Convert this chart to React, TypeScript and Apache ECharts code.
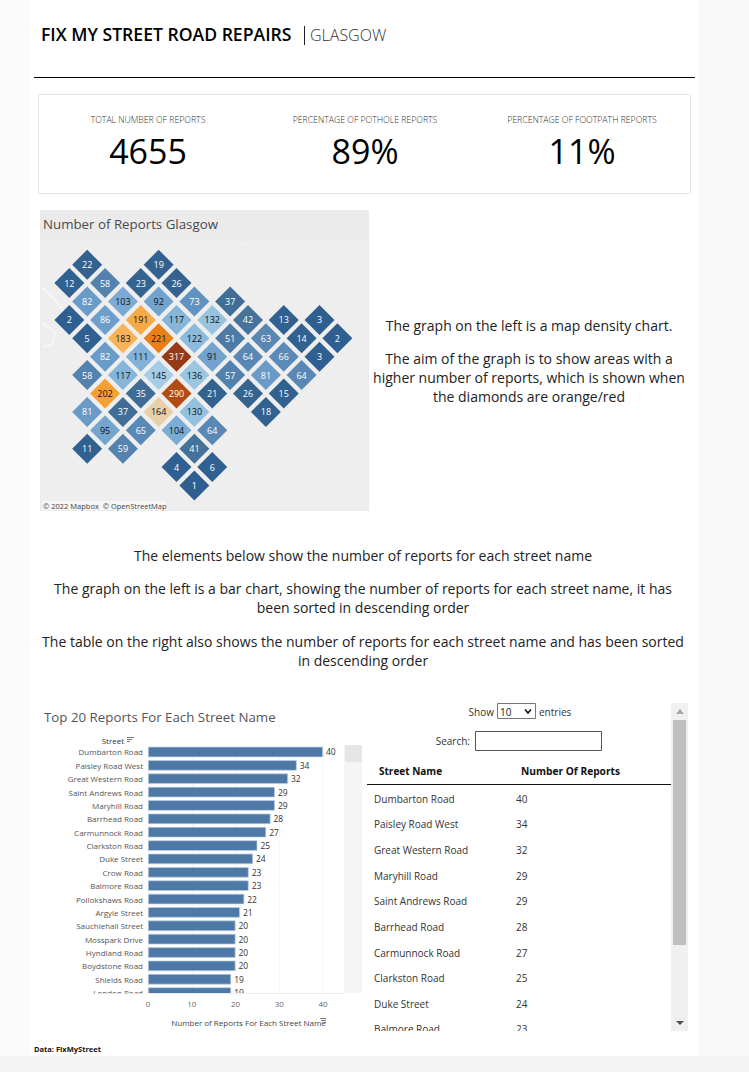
import React, { useEffect, useRef } from "react";
import * as echarts from "echarts";

const FONT = "'Open Sans', sans-serif";
const mapCols = [1,5, 0,2,4,6, 1,3,5,7,9, 0,2,4,6,8,10,12,14, 1,3,5,7,9,11,13,15, 2,4,6,8,10,12,14, 1,3,5,7,9,11,13, 2,4,6,8,10,12, 1,3,5,7,11, 2,4,6,8, 1,3,7, 6,8, 7];
const mapRows = [0,0, 1,1,1,1, 2,2,2,2,2, 3,3,3,3,3,3,3,3, 4,4,4,4,4,4,4,4, 5,5,5,5,5,5,5, 6,6,6,6,6,6,6, 7,7,7,7,7,7, 8,8,8,8,8, 9,9,9,9, 10,10,10, 11,11, 12];
const mapValues = [22,19, 12,58,23,26, 82,103,92,73,37, 2,86,191,117,132,42,13,3, 5,183,221,122,51,63,14,2, 82,111,317,91,64,66,3, 58,117,145,136,57,81,64, 202,35,290,21,26,15, 81,37,164,130,18, 95,65,104,64, 11,59,41, 4,6, 1];
const colorStopValues = [1, 26, 42, 58, 82, 117, 145, 155, 164, 183, 202, 221, 290, 317];
const colorStops = ["#2f5f91","#34638f","#467399","#5482ae","#6b9bc9","#85b6da","#a6cde5","#c8d6dc","#e6cfa9","#f8b358","#f5a030","#ea7f16","#b24c12","#963a16"];

const streets = ["Dumbarton Road","Paisley Road West","Great Western Road","Saint Andrews Road","Maryhill Road","Barrhead Road","Carmunnock Road","Clarkston Road","Duke Street","Crow Road","Balmore Road","Pollokshaws Road","Argyle Street","Sauchiehall Street","Mosspark Drive","Hyndland Road","Boydstone Road","Shields Road","London Road"];
const streetReports = [40,34,32,29,29,28,27,25,24,23,23,22,21,20,20,20,20,19,19];
const tableStreets = ["Dumbarton Road","Paisley Road West","Great Western Road","Maryhill Road","Saint Andrews Road","Barrhead Road","Carmunnock Road","Clarkston Road","Duke Street","Balmore Road"];
const tableReports = [40,34,32,29,29,28,27,25,24,23];
const tableRowY = [799,824,850,876,901,927,953,978,1004,1029];
const kpiLabels = ["TOTAL NUMBER OF REPORTS","PERCENTAGE OF POTHOLE REPORTS","PERCENTAGE OF FOOTPATH REPORTS"];
const kpiValues = ["4655","89%","11%"];
const kpiX = [148,365,582];
const mapNotes: [string, number][] = [
  ["The graph on the left is a map density chart.", 325],
  ["The aim of the graph is to show areas with a", 358],
  ["higher number of reports, which is shown when", 377],
  ["the diamonds are orange/red", 396],
];
const bodyNotes: [string, number][] = [
  ["The elements below show the number of reports for each street name", 555],
  ["The graph on the left is a bar chart, showing the number of reports for each street name, it has", 588],
  ["been sorted in descending order", 607],
  ["The table on the right also shows the number of reports for each street name and has been sorted", 641],
  ["in descending order", 660],
];
const rivers: number[][][] = [
  [[42,288],[50,294],[57,303],[65,313],[64,322]],
  [[42,323],[55,332],[52,345],[43,347]],
  [[297,400],[310,397],[317,408],[323,427]],
  [[217,247],[240,244],[263,242]],
];

function mapColor(v: number): string {
  let i = 0;
  while (i < colorStopValues.length - 2 && v > colorStopValues[i + 1]) i++;
  const t = (v - colorStopValues[i]) / (colorStopValues[i + 1] - colorStopValues[i]);
  return echarts.color.lerp(Math.min(1, t), [colorStops[i], colorStops[i + 1]]) as string;
}

const text = (x: number, y: number, t: string, size: number, fill: string, align = "left", weight: any = 400, family = FONT) => ({
  type: "text", x, y, z: 5, silent: true,
  style: { text: t, fontSize: size, fontWeight: weight, fontFamily: family, fill, align, verticalAlign: "middle" },
});
const rect = (x: number, y: number, width: number, height: number, fill: string, z = 0, stroke?: string, lineWidth = 1) => ({
  type: "rect", z, silent: true, shape: { x, y, width, height }, style: { fill, stroke, lineWidth },
});
const hline = (x1: number, x2: number, y: number, stroke: string, z = 6, w = 1) => ({
  type: "line", z, silent: true, shape: { x1, y1: y, x2, y2: y }, style: { stroke, lineWidth: w },
});

export default function App() {
  const ref = useRef<HTMLDivElement>(null);
  useEffect(() => {
    document.body.style.margin = "0";
    const chart = echarts.init(ref.current!, undefined, { renderer: "svg" });
    const graphics: any[] = [
      rect(0, 0, 749, 1072, "#fafafa", -10),
      rect(30, 0, 668, 1056, "#ffffff", -9),
      rect(698, 0, 51, 1072, "#f9f9f9", -9),
      rect(0, 1056, 749, 16, "#f3f3f3", -9),
      text(41, 34, "FIX MY STREET ROAD REPAIRS", 17.6, "#000000", "left", 600),
      { type: "line", z: 5, silent: true, shape: { x1: 304.5, y1: 26, x2: 304.5, y2: 45 }, style: { stroke: "#222", lineWidth: 1 } },
      text(310, 35, "GLASGOW", 16, "#333333", "left", 300),
      hline(34, 695, 77.5, "#000000"),
      rect(38.5, 94.5, 652, 99, "#ffffff", 1, "#e4e4e4"),
      rect(40, 210, 329, 301, "#ebebeb", 0),
      rect(41, 239, 327, 271, "#eeeeee", 0),
      text(43, 224, "Number of Reports Glasgow", 13.3, "#4a4a4a"),
      rect(42, 501, 124, 9, "#f6f6f6", 1),
      text(43, 505.5, "© 2022 Mapbox  © OpenStreetMap", 7.5, "#444444"),
      text(44, 717, "Top 20 Reports For Each Street Name", 13.3, "#555555"),
      text(124, 740, "Street", 8, "#333333", "right", 500),
      hline(127, 134, 737.5, "#777", 6), hline(127, 132, 739.5, "#777", 6), hline(127, 130, 741.5, "#777", 6),
      // scrollbar of the bar view
      rect(345, 745, 17, 248, "#f5f5f5", 1),
      rect(345, 745, 17, 17, "#e6e6e6", 2),
      // clip of the bar view
      rect(60, 993.5, 302, 6.5, "#ffffff", 50),
      hline(148, 344, 993.5, "#eeeeee", 51),
      hline(320, 326, 1018.5, "#777", 52), hline(321, 326, 1020.5, "#777", 52), hline(323, 326, 1022.5, "#777", 52),
      text(34, 1049, "Data: FixMyStreet", 7.5, "#111111", "left", 700),
      // table controls
      text(494, 712, "Show", 10, "#333333", "right"),
      rect(497.5, 703.5, 38, 15, "#ffffff", 5, "#767676"),
      text(500, 712, "10", 10, "#222222"),
      { type: "polyline", z: 6, silent: true, shape: { points: [[525, 709.5], [528, 713], [531, 709.5]] }, style: { stroke: "#111", lineWidth: 1.6, fill: "none" } },
      text(539, 712, "entries", 10, "#333333"),
      text(470, 741, "Search:", 10, "#333333", "right"),
      rect(475.5, 731.5, 126, 19, "#ffffff", 5, "#555555"),
      text(379, 771, "Street Name", 10, "#111111", "left", 700),
      text(521, 771, "Number Of Reports", 10.2, "#111111", "left", 700),
      hline(367, 671, 784.5, "#111111"),
      // table scrollbar
      rect(671, 703, 17, 328, "#f0f0f0", 1),
      rect(673, 720, 13, 225, "#c0c0c0", 2),
      { type: "polygon", z: 3, silent: true, shape: { points: [[676, 714], [680, 709], [684, 714]] }, style: { fill: "#a5a5a5" } },
      { type: "polygon", z: 3, silent: true, shape: { points: [[676, 1021], [680, 1025], [684, 1021]] }, style: { fill: "#505050" } },
      rect(367, 1031, 304, 8, "#ffffff", 50),
    ];
    kpiLabels.forEach((l, i) => {
      graphics.push(text(kpiX[i], 119.5, l, 8.7, "#333333", "center", 300));
      graphics.push(text(kpiX[i], 151, kpiValues[i], 34, "#000000", "center"));
    });
    mapNotes.forEach(([t, y]) => graphics.push(text(529, y, t, 14, "#222222", "center")));
    bodyNotes.forEach(([t, y]) => graphics.push(text(363, y, t, 14, "#222222", "center")));
    tableStreets.forEach((s, i) => {
      graphics.push(text(374, tableRowY[i], s, 10, "#333333"));
      graphics.push(text(516, tableRowY[i], String(tableReports[i]), 10, "#333333"));
    });
    rivers.forEach((points, i) => graphics.push({ type: "polyline", z: 1, silent: true, shape: { points }, style: { stroke: i < 2 ? "#f8f8f8" : "#f3f3f3", lineWidth: i < 2 ? 1.5 : 1, fill: "none" } }));

    chart.setOption({
      animation: false,
      textStyle: { fontFamily: FONT },
      graphic: { elements: graphics },
      grid: [
        { left: 69.3, top: 264.7, width: 268.05, height: 220.8 },
        { left: 148, top: 745.3, width: 196, height: 254 },
      ],
      xAxis: [
        { gridIndex: 0, type: "value", min: 0, max: 15, show: false },
        {
          gridIndex: 1, type: "value", min: 0, max: 44.8, interval: 10,
          axisLine: { show: false }, axisTick: { show: false },
          axisLabel: { fontSize: 8, color: "#666666", margin: 0, showMaxLabel: false },
          splitLine: { lineStyle: { color: "#f5f5f5" } },
          name: "Number of Reports For Each Street Name", nameLocation: "middle", nameGap: 19,
          nameTextStyle: { fontSize: 8, color: "#444444", padding: [0, 0, 0, 5] },
        },
      ],
      yAxis: [
        { gridIndex: 0, type: "value", min: 0, max: 12, inverse: true, show: false },
        {
          gridIndex: 1, type: "category", data: streets, inverse: true,
          axisLine: { show: false }, axisTick: { show: false },
          axisLabel: { fontSize: 8, color: "#555555", margin: 5 },
        },
      ],
      series: [
        {
          type: "scatter", xAxisIndex: 0, yAxisIndex: 0, symbol: "diamond", symbolSize: 30,
          data: mapValues.map((v, i) => ({
            value: [mapCols[i], mapRows[i], v],
            label: { color: v > 90 && v < 290 ? "#111111" : "#ffffff" },
          })),
          itemStyle: { color: (p: any) => mapColor(p.value[2]), opacity: 1 },
          label: {
            show: true, position: "inside", fontSize: 9, fontFamily: FONT, fontWeight: 500,
            formatter: (p: any) => String(p.value[2]),
          },
          labelLayout: { hideOverlap: false },
        },
        {
          type: "bar", xAxisIndex: 1, yAxisIndex: 1, data: streetReports, barWidth: 10.5,
          itemStyle: { color: "#4e79a7", borderColor: "#bfd0e2", borderWidth: 0.7 },
          label: { show: true, position: "right", distance: 3, fontSize: 8.5, color: "#333333" },
        },
      ],
    });
    return () => chart.dispose();
  }, []);
  return <div ref={ref} style={{ width: 749, height: 1072 }} />;
}
